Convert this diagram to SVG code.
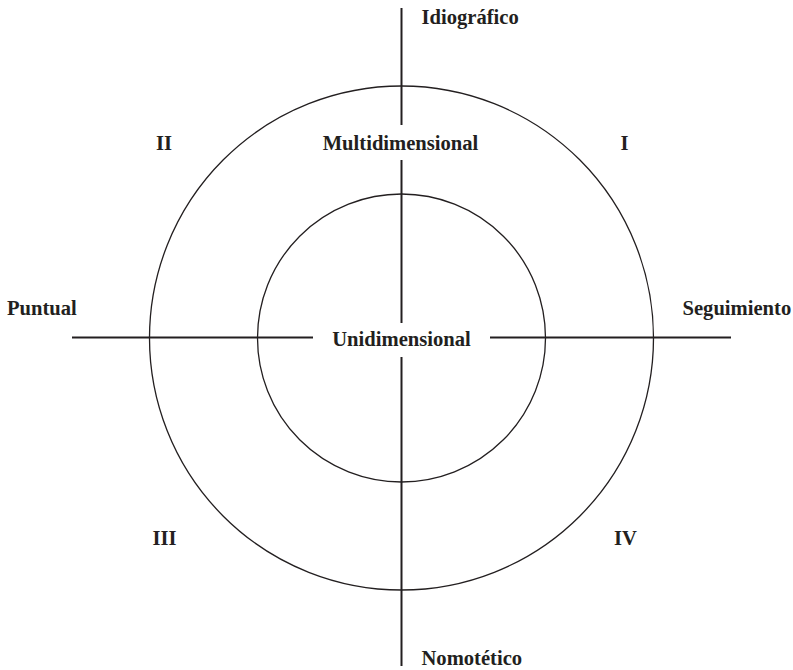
<svg xmlns="http://www.w3.org/2000/svg" width="793" height="670" viewBox="0 0 793 670">
<style>
.t{font-family:"Liberation Serif","Times New Roman",serif;font-weight:bold;font-size:20.6px;fill:#231f20}
.c{fill:none;stroke:#231f20;stroke-width:1.3}
.l{stroke:#231f20;stroke-width:2;fill:none}
</style>
<rect width="793" height="670" fill="#fff"/>
<g id="outer-circle"><circle class="c" cx="401.5" cy="338" r="252"/></g>
<g id="inner-circle"><circle class="c" cx="401.5" cy="338" r="144"/></g>
<g id="connectors">
<line class="l" x1="401.5" y1="8" x2="401.5" y2="125"/>
<line class="l" x1="401.5" y1="160" x2="401.5" y2="323"/>
<line class="l" x1="401.5" y1="357" x2="401.5" y2="666"/>
<line class="l" x1="72" y1="337.5" x2="313" y2="337.5"/>
<line class="l" x1="490" y1="337.5" x2="731" y2="337.5"/>
</g>
<g id="idiografico"><text class="t" x="421.5" y="24">Idiográfico</text></g>
<g id="nomotetico"><text class="t" x="421.5" y="665">Nomotético</text></g>
<g id="puntual"><text class="t" x="7" y="315">Puntual</text></g>
<g id="seguimiento"><text class="t" x="682.5" y="315">Seguimiento</text></g>
<g id="multidimensional"><text class="t" x="400.5" y="149.5" text-anchor="middle">Multidimensional</text></g>
<g id="unidimensional"><text class="t" x="401.5" y="345.5" text-anchor="middle">Unidimensional</text></g>
<g id="q1"><text class="t" x="624.5" y="149.5" text-anchor="middle">I</text></g>
<g id="q2"><text class="t" x="164" y="149.5" text-anchor="middle">II</text></g>
<g id="q3"><text class="t" x="164.5" y="545" text-anchor="middle">III</text></g>
<g id="q4"><text class="t" x="625.5" y="545" text-anchor="middle">IV</text></g>
</svg>
